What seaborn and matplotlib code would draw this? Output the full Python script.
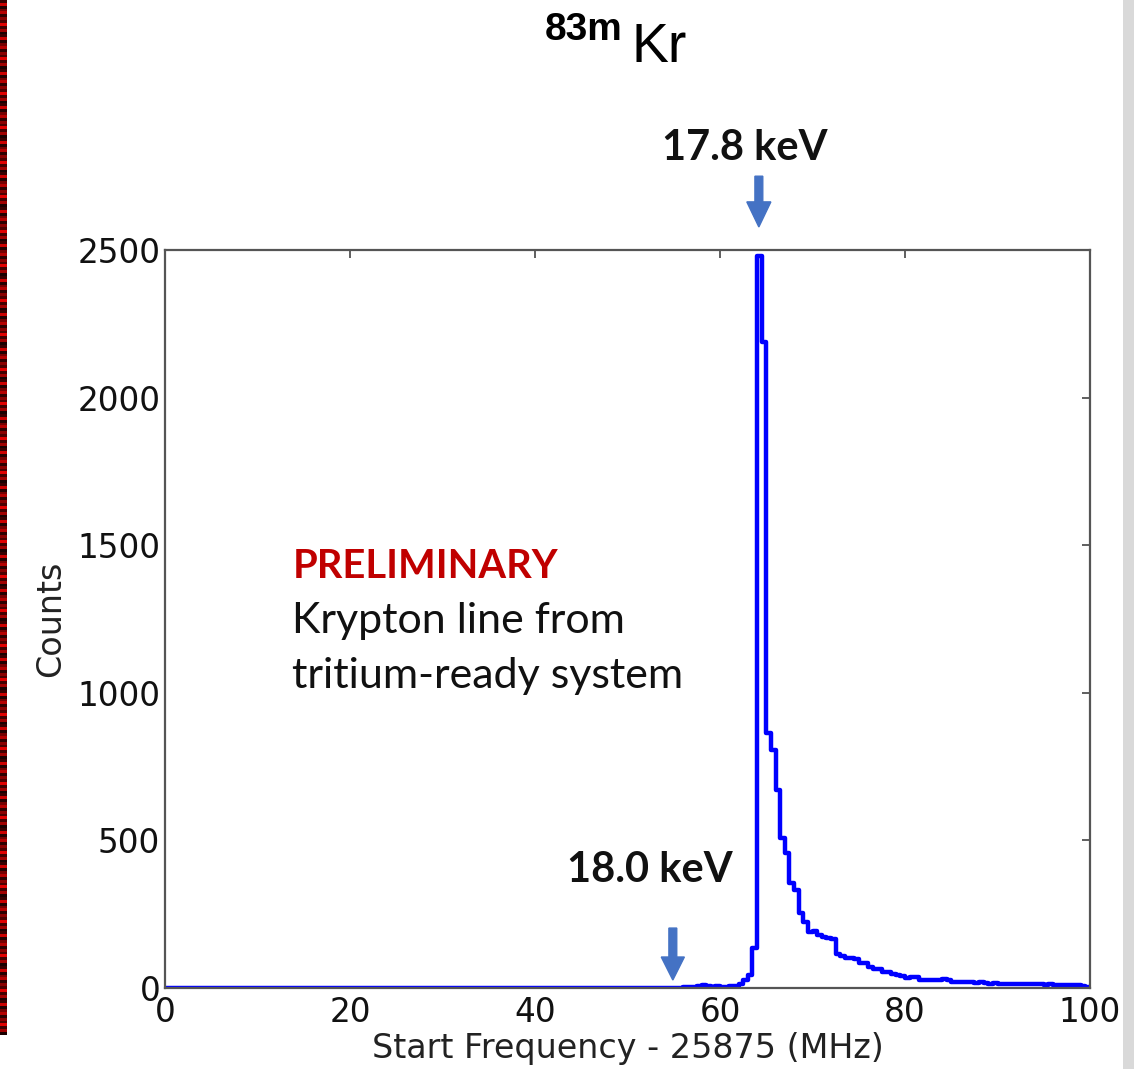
import numpy as np
import pandas as pd
import matplotlib
matplotlib.use("Agg")
import matplotlib.pyplot as plt
import seaborn as sns

# ---- data -------------------------------------------------------------
bin_width = 0.5
freq_min, freq_max = 0, 100
# counts per 0.5 MHz bin, bins 0.0-0.5 ... 99.5-100
counts_low = [0] * 112  # 0 .. 56 MHz : empty
counts_rise = [2, 3, 4, 6, 10, 6, 5, 6, 5, 5, 6, 8, 12, 27, 44, 134]  # 56 .. 64
counts_peak = [2480, 2190, 863, 806, 671, 507, 456, 355, 332, 253,
               225, 191, 193, 178, 172, 168, 166, 116]  # 64 .. 73
counts_tail = [110, 100, 102, 98, 86, 83, 70, 66, 64, 55,
               54, 46, 44, 40, 33, 36, 37, 28, 27, 28,
               26, 27, 29, 28, 22, 21, 22, 19, 20, 18,
               20, 17, 15, 16, 14, 15, 14, 13, 14, 12,
               13, 15, 14, 12, 11, 12, 11, 10, 11, 10,
               9, 10, 8, 5]  # 73 .. 100
counts = counts_low + counts_rise + counts_peak + counts_tail

x_ticks = [0, 20, 40, 60, 80, 100]
y_ticks = [0, 500, 1000, 1500, 2000, 2500]
x_label = "Start Frequency - 25875 (MHz)"
y_label = "Counts"
note_title = "PRELIMINARY"
note_lines = ["Krypton line from", "tritium-ready system"]
peak_label = "17.8 keV"
peak_pos = 64.2
edge_label = "18.0 keV"
edge_pos = 54.9

edges = np.arange(freq_min, freq_max + bin_width / 2, bin_width)
centers = (edges[:-1] + edges[1:]) / 2
df = pd.DataFrame({"freq": centers, "counts": counts})

# ---- figure -------------------------------------------------------------
W, H = 1134, 1069
sns.set_theme(style="white")
plt.rcParams["font.family"] = ["DejaVu Sans"]
fig = plt.figure(figsize=(W / 100, H / 100), dpi=100)
fig.patch.set_facecolor("white")

ax = fig.add_axes([165 / W, 1 - 988 / H, (1090 - 165) / W, (988 - 250) / H])
sns.histplot(data=df, x="freq", weights="counts", binwidth=bin_width,
             binrange=(freq_min, freq_max), element="step",
             fill=False, color="#0000ff", linewidth=3.2, ax=ax)
for ln in ax.lines:
    ln.set_linewidth(3.2)
for coll in ax.collections:
    coll.set_linewidth(3.2)

ax.set_xlim(freq_min, freq_max)
ax.set_ylim(0, 2500)
ax.set_xticks(x_ticks)
ax.set_yticks(y_ticks)
ax.set_xlabel(x_label, fontsize=24, color="#222222", labelpad=2)
ax.set_ylabel(y_label, fontsize=24, color="#222222", labelpad=7)
ax.tick_params(axis="both", which="both", direction="in", length=6, width=1.2,
               colors="#444444", labelcolor="#111111", labelsize=23.5,
               top=True, right=True, pad=3.5)
ax.tick_params(axis="x", pad=6)
for sp in ax.spines.values():
    sp.set_visible(True)
    sp.set_color("#555555")
    sp.set_linewidth(1.6)

arrow_color = "#4472c4"
# 17.8 keV arrow (above the axes)
ax.arrow(peak_pos, 2750, 0, -172, width=0.85, head_width=2.6, head_length=85,
         length_includes_head=True, color=arrow_color, clip_on=False, zorder=5)
# 18.0 keV arrow
ax.arrow(edge_pos, 203, 0, -176, width=0.85, head_width=2.5, head_length=78,
         length_includes_head=True, color=arrow_color, clip_on=False, zorder=5)


def ftext(x, y, s, **kw):
    fig.text(x / W, 1 - y / H, s, va="baseline", ha="left", **kw)


ftext(293, 578, note_title, family=["Lato", "DejaVu Sans"], fontweight="bold",
      fontsize=28.7, color="#c00000")
ftext(292, 633, note_lines[0], family=["Lato", "DejaVu Sans"], fontsize=31,
      color="#111111")
ftext(292, 688, note_lines[1], family=["Lato", "DejaVu Sans"], fontsize=31,
      color="#111111")
ftext(662, 160, peak_label, family=["Lato", "DejaVu Sans"], fontweight="bold",
      fontsize=30, color="#111111")
ftext(567, 882, edge_label, family=["Lato", "DejaVu Sans"], fontweight="bold",
      fontsize=30, color="#111111")

# title 83mKr
ftext(545, 40, "83m", family=["Liberation Sans", "DejaVu Sans"],
      fontweight="bold", fontsize=28, color="black")
ftext(632, 62, "Kr", family=["Liberation Sans", "DejaVu Sans"],
      fontsize=40, color="black")

# decorative edges of the slide
stripe_ax = fig.add_axes([0, 1 - 1035 / H, 7 / W, 1035 / H])
pattern = np.array([0.2, 0.9, 0.1, 0.5, 0.8, 0.15, 0.6, 0.3, 1.0, 0.25, 0.7, 0.05])
stripe = np.tile(pattern, 30)[:, None]
stripe_ax.imshow(stripe, aspect="auto", cmap=matplotlib.colors.LinearSegmentedColormap.from_list(
    "rb", ["#1a0000", "#7a0000", "#e00000"]), interpolation="nearest")
stripe_ax.axis("off")

gray_ax = fig.add_axes([1123 / W, 0, 11 / W, 1])
gray_ax.set_facecolor("#d9d9d9")
gray_ax.set_xticks([])
gray_ax.set_yticks([])
for sp in gray_ax.spines.values():
    sp.set_visible(False)

fig.savefig("out.png", dpi=100, facecolor="white")
